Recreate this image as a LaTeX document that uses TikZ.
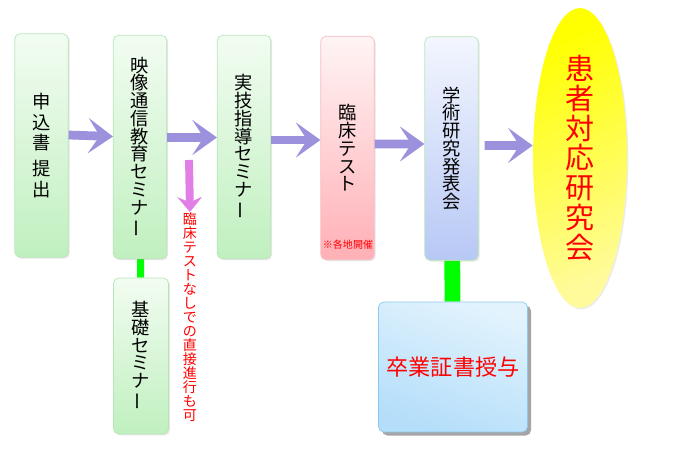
\documentclass[tikz,border=0pt]{standalone}
\usepackage{fontspec}
\setmainfont{Noto Sans CJK JP}
\usepackage{tikz}
\usetikzlibrary{shapes,arrows.meta,positioning,shadows,backgrounds}
\definecolor{greentop}{HTML}{F2FCF1}
\definecolor{greenbot}{HTML}{C0F0BF}
\definecolor{greenline}{HTML}{B8E6B8}
\definecolor{pinktop}{HTML}{FFF4F4}
\definecolor{pinkbot}{HTML}{FFB0B6}
\definecolor{pinkline}{HTML}{F6BCC0}
\definecolor{bluetop}{HTML}{F3F6FE}
\definecolor{bluebot}{HTML}{B7C8F5}
\definecolor{skytop}{HTML}{E2F3FD}
\definecolor{skybot}{HTML}{B4DEFA}
\definecolor{skyline}{HTML}{8CC9F0}
\definecolor{yellowpale}{HTML}{FFFB9A}
\definecolor{flowpurple}{HTML}{9B91DD}
\definecolor{branchpink}{HTML}{E27FE6}
\definecolor{linkgreen}{HTML}{00FF00}
\newcommand{\nobashi}{\rotatebox[origin=c]{90}{ー}}

\begin{document}
\begin{tikzpicture}[x=0.02cm, y=-0.02cm,
  stepbox/.style={draw=greenline, rectangle, rounded corners=3pt, minimum width=1.07cm, minimum height=4.47cm, top color=greentop, bottom color=greenbot, font=\fontsize{10.4}{10.1}\selectfont, align=center, inner sep=0pt, drop shadow={shadow xshift=0.8pt, shadow yshift=-0.8pt, opacity=0.2}},
  testbox/.style={stepbox, draw=pinkline, top color=pinktop, bottom color=pinkbot},
  talkbox/.style={stepbox, top color=bluetop, bottom color=bluebot},
  goal/.style={ellipse, minimum width=1.88cm, minimum height=6cm, top color=yellow, bottom color=yellowpale, shading angle=25, text=red, font=\fontsize{16.5}{17}\selectfont, align=center, inner sep=0pt, drop shadow={shadow xshift=0.8pt, shadow yshift=-0.8pt, opacity=0.15}},
  diploma/.style={draw=skyline, rectangle, rounded corners=3pt, minimum width=2.98cm, minimum height=2.6cm, top color=skytop, bottom color=skybot, shading angle=-20, text=red, font=\fontsize{12.6}{13}\selectfont, drop shadow={shadow xshift=2pt, shadow yshift=-2pt, opacity=0.5, fill=black!70}},
  note/.style={text=red, align=center, inner sep=0pt},
  flow/.style={draw=flowpurple, line width=5pt, -{Stealth[length=14pt, width=20pt, inset=6.5pt]}},
  branch/.style={draw=branchpink, line width=4.5pt, -{Stealth[length=8.5pt, width=14pt, inset=3pt]}},
  link/.style={draw=linkgreen}
]
  \useasboundingbox (0,0) rectangle (700,450);

  \node[stepbox, font=\fontsize{10.4}{11.8}\selectfont] (apply) at (41.5,145.5) {申\\込\\書\\[3pt]提\\出};
  \node[stepbox] (video) at (140,147) {映\\像\\通\\信\\教\\育\\セ\\ミ\\ナ\\\nobashi};
  \node[stepbox] (skill) at (244,147) {実\\技\\指\\導\\セ\\ミ\\ナ\\\nobashi};
  \node[testbox] (exam) at (347.5,148) {臨\\床\\テ\\ス\\ト};
  \node[talkbox] (present) at (451.5,148.5) {学\\術\\研\\究\\発\\表\\会};
  \node[goal] (study) at (580,158) {患\\者\\対\\応\\研\\究\\会};
  \node[stepbox, minimum width=1.1cm, minimum height=3.12cm] (basic) at (141,356) {基\\礎\\セ\\ミ\\ナ\\\nobashi};
  \node[diploma] (grad) at (453,367) {卒業証書授与};

  \node[note, font=\fontsize{5.7}{6}\selectfont] (venue) at (348,245) {※各地開催};
  \node[note, anchor=north, font=\fontsize{8}{8}\selectfont] (direct) at (190,212) {臨\\床\\テ\\ス\\ト\\な\\し\\で\\の\\直\\接\\進\\行\\も\\可};
  \coordinate (split) at (189,160);

  \begin{scope}[on background layer]
    \draw[link, line width=4pt] (video) -- (basic);
    \draw[link, line width=9pt] (present) -- (grad);
  \end{scope}

  \draw[flow] ([yshift=0.21cm]apply.east) -- ([yshift=0.21cm]video.west);
  \draw[flow] ([yshift=0.19cm]video.east) -- ([yshift=0.19cm]skill.west);
  \draw[flow] ([yshift=0.14cm]skill.east) -- ([yshift=0.16cm]exam.west);
  \draw[flow] ([yshift=0.08cm]exam.east) -- ([yshift=0.09cm]present.west);
  \draw[flow, shorten <=0.12cm] ([yshift=0.06cm]present.east) -- ([yshift=0.25cm]study.west);
  \draw[branch] (split) -- (direct.north);
\end{tikzpicture}
\end{document}
